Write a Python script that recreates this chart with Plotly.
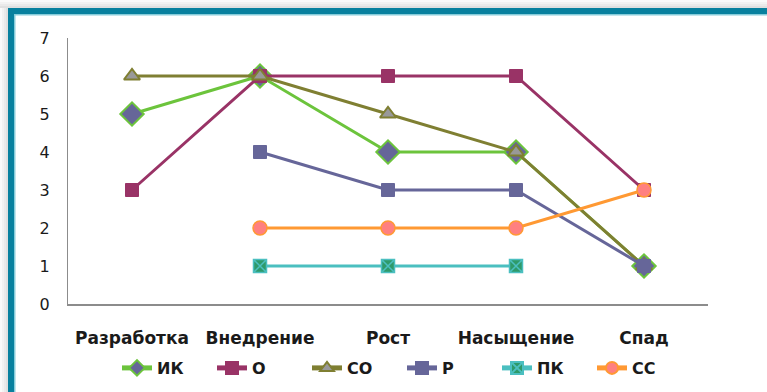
import plotly.graph_objects as go

# Life-cycle stages and the ratings of each indicator per stage
stages = ["Разработка", "Внедрение", "Рост", "Насыщение", "Спад"]
ik = [5, 6, 4, 4, 1]
o = [3, 6, 6, 6, 3]
so = [6, 6, 5, 4, 1]
r = [None, 4, 3, 3, 1]
pk = [None, 1, 1, 1, None]
ss = [None, 2, 2, 2, 3]
y_ticks = [0, 1, 2, 3, 4, 5, 6, 7]

W, H = 767, 392
L, R, T, B = 68, 59, 38, 88
PW, PH = W - L - R, H - T - B


def px(x):
    return (x - L) / PW


def py(y):
    return (H - B - y) / PH


series = [
    ("ИК", ik, "#6CC43C", dict(symbol="diamond", size=18, color="#666699",
                                line=dict(color="#6CC43C", width=2))),
    ("О", o, "#993366", dict(symbol="square", size=13, color="#993366",
                              line=dict(color="#993366", width=1))),
    ("СО", so, "#7F7F32", dict(symbol="triangle-up", size=14, color="#999999",
                                line=dict(color="#7F7F32", width=2))),
    ("Р", r, "#666699", dict(symbol="square", size=13, color="#666699",
                              line=dict(color="#666699", width=1))),
    ("ПК", pk, "#4BBFC0", dict(symbol="square-x", size=13, color="#2E9A6A",
                                line=dict(color="#4BBFC0", width=1.5))),
    ("СС", ss, "#FF9933", dict(symbol="circle", size=14, color="#FF8080",
                                line=dict(color="#FF9933", width=1.5))),
]

fig = go.Figure()
for name, vals, col, mk in series:
    fig.add_trace(go.Scatter(
        x=stages, y=vals, name=name, mode="lines+markers",
        line=dict(color=col, width=3), marker=mk, connectgaps=False,
    ))

shapes = []
# soft shadow around the frame
for i, g in enumerate(["#FAFAFA", "#F2F2F2", "#EAEAEA", "#E0E0E0"]):
    shapes.append(dict(type="rect", xref="paper", yref="paper", layer="below",
                       x0=px(0), x1=px(W + 20), y0=py(2 * i), y1=py(2 * i + 2),
                       fillcolor=g, line_width=0))
    shapes.append(dict(type="rect", xref="paper", yref="paper", layer="below",
                       x0=px(2 * i), x1=px(2 * i + 2), y0=py(2 * i), y1=py(H + 20),
                       fillcolor=g, line_width=0))
# teal frame
shapes.append(dict(type="rect", xref="paper", yref="paper", layer="below",
                   x0=px(8), x1=px(W + 20), y0=py(8), y1=py(14),
                   fillcolor="#08809E", line_width=0))
shapes.append(dict(type="rect", xref="paper", yref="paper", layer="below",
                   x0=px(8), x1=px(14), y0=py(8), y1=py(H + 20),
                   fillcolor="#08809E", line_width=0))
shapes.append(dict(type="rect", xref="paper", yref="paper", layer="below",
                   x0=px(14), x1=px(W + 20), y0=py(14), y1=py(15.5),
                   fillcolor="#86CCDA", line_width=0))
shapes.append(dict(type="rect", xref="paper", yref="paper", layer="below",
                   x0=px(14), x1=px(15.5), y0=py(14), y1=py(H + 20),
                   fillcolor="#86CCDA", line_width=0))

fig.update_layout(
    width=W, height=H,
    margin=dict(l=L, r=R, t=T, b=B, autoexpand=False),
    paper_bgcolor="white", plot_bgcolor="white",
    font=dict(family="DejaVu Sans", color="#1A1A1A"),
    showlegend=True,
    legend=dict(orientation="h", x=px(117), xanchor="left", y=py(368), yanchor="middle",
                font=dict(size=16, family="DejaVu Sans", weight="bold"),
                itemwidth=30, entrywidth=50, entrywidthmode="pixels",
                itemsizing="constant", tracegroupgap=0, bgcolor="rgba(0,0,0,0)"),
    shapes=shapes,
    xaxis=dict(range=[-0.5, 4.5], showgrid=False, showline=True, linecolor="#8C8C8C",
               linewidth=1.5, ticks="", tickfont=dict(size=17, weight="bold"),
               ticklabelstandoff=18, zeroline=False, automargin=False),
    yaxis=dict(range=[0, 7], tickvals=y_ticks, showgrid=False, showline=True,
               linecolor="#8C8C8C", linewidth=1, ticks="", tickfont=dict(size=16),
               ticklabelstandoff=14, zeroline=False, automargin=False),
)

fig.write_html("out.html")
